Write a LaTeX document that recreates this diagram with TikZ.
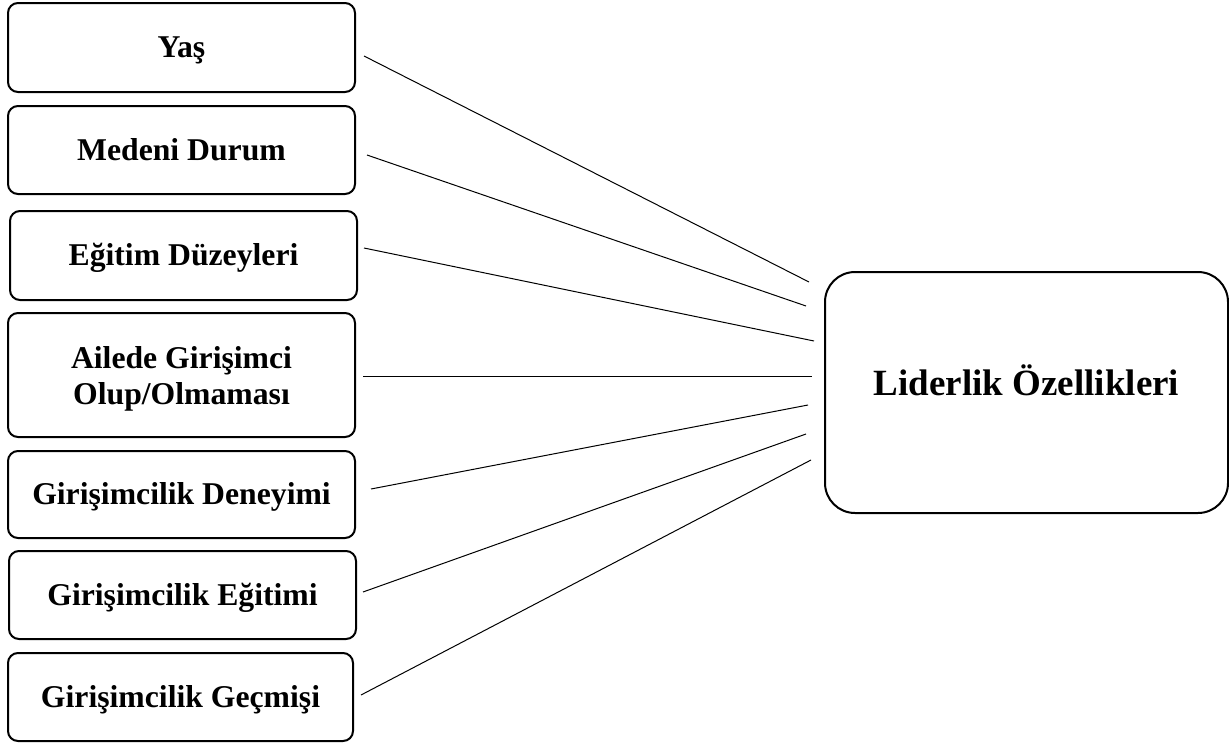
\documentclass[tikz,border=0pt]{standalone}
\usepackage{fontspec}
\setmainfont{Liberation Serif}
\usepackage{tikz}
\usetikzlibrary{calc}

\begin{document}
\begin{tikzpicture}[x=1pt,y=-1pt,
    factor/.style={draw,line width=2pt,rounded corners=10pt,minimum width=347pt,minimum height=88pt,
      align=center,font=\fontsize{31.7}{36}\selectfont\bfseries,text height=22pt,text depth=1.3pt,inner sep=0pt},
    result/.style={draw,line width=2pt,rounded corners=30pt,minimum width=403pt,minimum height=241pt,
      font=\fontsize{37}{42}\selectfont\bfseries,text height=26pt,text depth=21pt,inner sep=0pt},
    link/.style={line width=1pt}]
  \useasboundingbox (0,0) rectangle (1229,742);
  % factors on the left
  \node[factor,minimum height=89pt] (yas)      at (181.5,47.5)  {Yaş};
  \node[factor]                    (medeni)   at (181.5,150)   {Medeni Durum};
  \node[factor,minimum height=89pt] (egitim)   at (183.5,255.5) {Eğitim Düzeyleri};
  \node[factor,minimum height=124pt,text height=60pt] (aile) at (181.5,375) {Ailede Girişimci\\Olup/Olmaması};
  \node[factor,minimum height=87pt] (deneyim)  at (181.5,494.5) {Girişimcilik Deneyimi};
  \node[factor]                    (gegitim)  at (182.5,595)   {Girişimcilik Eğitimi};
  \node[factor,minimum width=345pt] (gecmis)   at (180.5,697)   {Girişimcilik Geçmişi};
  % outcome on the right
  \node[result] (lider) at (1026.5,392.5) {Liderlik Özellikleri};
  % line ends
  \coordinate (s1) at ($(yas.east)+(8,8.5)$);
  \coordinate (s2) at ($(medeni.east)+(11,5)$);
  \coordinate (s3) at ($(egitim.east)+(6,-7.5)$);
  \coordinate (s4) at ($(aile.east)+(7,1)$);
  \coordinate (s5) at ($(deneyim.east)+(15,-5.5)$);
  \coordinate (s6) at ($(gegitim.east)+(6,-3)$);
  \coordinate (s7) at ($(gecmis.east)+(7,-2)$);
  \coordinate (e1) at ($(lider.west)+(-15,-110.5)$);
  \coordinate (e2) at ($(lider.west)+(-18,-86.5)$);
  \coordinate (e3) at ($(lider.west)+(-10,-51.5)$);
  \coordinate (e4) at ($(lider.west)+(-12,-16.5)$);
  \coordinate (e5) at ($(lider.west)+(-16,12.5)$);
  \coordinate (e6) at ($(lider.west)+(-18,41.5)$);
  \coordinate (e7) at ($(lider.west)+(-13,67.5)$);
  \draw[link] (s1) -- (e1);
  \draw[link] (s2) -- (e2);
  \draw[link] (s3) -- (e3);
  \draw[link] (s4) -- (e4);
  \draw[link] (s5) -- (e5);
  \draw[link] (s6) -- (e6);
  \draw[link] (s7) -- (e7);
\end{tikzpicture}
\end{document}
